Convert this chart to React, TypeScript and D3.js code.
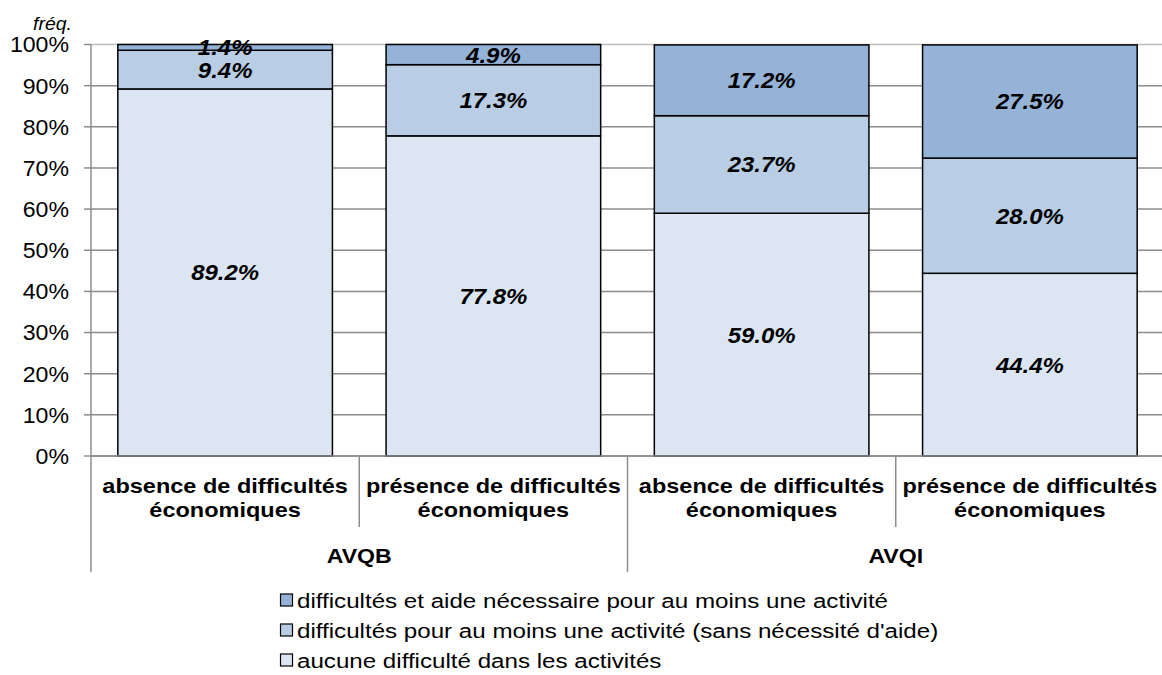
import React from "react";
import * as d3 from "d3";

const groups = ["AVQB", "AVQI"];
const categories = [
  "absence de difficultés économiques",
  "présence de difficultés économiques",
  "absence de difficultés économiques",
  "présence de difficultés économiques",
];
const categoryGroup = ["AVQB", "AVQB", "AVQI", "AVQI"];
const seriesNames = [
  "aucune difficulté dans les activités",
  "difficultés pour au moins une activité (sans nécessité d'aide)",
  "difficultés et aide nécessaire pour au moins une activité",
];
const aucune = [89.2, 77.8, 59.0, 44.4];
const difficultes = [9.4, 17.3, 23.7, 28.0];
const aide = [1.4, 4.9, 17.2, 27.5];
const seriesColors = ["#DCE6F2", "#B9CDE5", "#95B3D7"];
const yTicks = [0, 10, 20, 30, 40, 50, 60, 70, 80, 90, 100];

const W = 1162;
const H = 675;
const left = 91;
const right = 1164;
const top = 44.5;
const bottom = 456;
const FONT = "'Liberation Sans', Arial, sans-serif";

function SText(props: {
  x: number;
  y: number;
  sx: number;
  size: number;
  anchor?: string;
  weight?: string;
  italic?: boolean;
  dy?: string;
  children: React.ReactNode;
}) {
  return (
    <text
      transform={`translate(${props.x},${props.y}) scale(${props.sx},1)`}
      textAnchor={props.anchor || "start"}
      fontSize={props.size}
      fontWeight={props.weight || "normal"}
      fontStyle={props.italic ? "italic" : "normal"}
      dy={props.dy}
      fill="#000"
    >
      {props.children}
    </text>
  );
}

export default function App() {
  const seriesValues = [aucune, difficultes, aide];
  const x = d3
    .scaleBand<number>()
    .domain(categories.map((_, i) => i))
    .range([left, right])
    .paddingInner(0)
    .paddingOuter(0);
  const bw = x.bandwidth();
  const barW = bw * 0.8;
  const y = d3.scaleLinear().domain([0, 100]).range([bottom, top]);

  const stacks = categories.map((_, i) => {
    let acc = 0;
    return seriesValues.map((vals, s) => {
      const y0 = acc;
      acc += vals[i];
      return { s, y0, y1: s === seriesValues.length - 1 ? Math.min(acc, 100) : acc, v: vals[i] };
    });
  });

  const groupCenters = groups.map((g) => {
    const idx = categories.map((_, i) => i).filter((i) => categoryGroup[i] === g);
    const x0 = x(idx[0])!;
    const x1 = x(idx[idx.length - 1])! + bw;
    return { g, x0, x1, c: (x0 + x1) / 2 };
  });

  const legendOrder = [2, 1, 0];
  const legendBaselines = [608, 638, 668];

  return (
    <svg width={W} height={H} style={{ position: "absolute", left: 0, top: 0, background: "#fff" }} fontFamily={FONT}>
      {yTicks.map((t) => (
        <line key={"g" + t} x1={left} x2={W} y1={y(t)} y2={y(t)} stroke={t === 100 ? "#bdbdbd" : "#8c8c8c"} strokeWidth={1.5} />
      ))}
      {yTicks.map((t) => (
        <g key={"t" + t}>
          <line x1={left - 7} x2={left} y1={y(t)} y2={y(t)} stroke="#8c8c8c" strokeWidth={1.5} />
          <SText x={69} y={y(t)} dy="0.36em" anchor="end" size={22} sx={1.05}>
            {t}%
          </SText>
        </g>
      ))}
      <SText x={72} y={30} anchor="end" size={18} sx={1.08} italic>
        fréq.
      </SText>
      <line x1={left} x2={left} y1={top} y2={572} stroke="#8c8c8c" strokeWidth={1.5} />
      {categories.map((_, i) => {
        if (i === 0) return null;
        const xx = x(i)!;
        const isGroupEdge = categoryGroup[i] !== categoryGroup[i - 1];
        return <line key={"d" + i} x1={xx} x2={xx} y1={bottom} y2={isGroupEdge ? 572 : 527} stroke="#8c8c8c" strokeWidth={1.5} />;
      })}
      {stacks.map((st, i) =>
        st.map((seg) => (
          <rect
            key={"b" + i + "-" + seg.s}
            x={x(i)! + (bw - barW) / 2}
            width={barW}
            y={y(seg.y1)}
            height={y(seg.y0) - y(seg.y1)}
            fill={seriesColors[seg.s]}
            stroke="#000"
            strokeWidth={1.5}
          />
        ))
      )}
      <line x1={left} x2={W} y1={bottom} y2={bottom} stroke="#8c8c8c" strokeWidth={1.5} />
      {stacks.map((st, i) =>
        st.map((seg) => (
          <SText
            key={"l" + i + "-" + seg.s}
            x={x(i)! + bw / 2}
            y={y((seg.y0 + seg.y1) / 2)}
            dy="0.36em"
            anchor="middle"
            size={22}
            sx={1.09}
            weight="bold"
            italic
          >
            {seg.v.toFixed(1)}%
          </SText>
        ))
      )}
      {categories.map((c, i) => {
        const words = c.split(" ");
        const l1 = words.slice(0, 3).join(" ");
        const l2 = words.slice(3).join(" ");
        const cx = x(i)! + bw / 2;
        return (
          <g key={"c" + i}>
            <SText x={cx} y={493} anchor="middle" size={21} sx={1.12} weight="bold">
              {l1}
            </SText>
            <SText x={cx} y={517} anchor="middle" size={21} sx={1.12} weight="bold">
              {l2}
            </SText>
          </g>
        );
      })}
      {groupCenters.map((g) => (
        <SText key={g.g} x={g.c} y={563} anchor="middle" size={21} sx={1.1} weight="bold">
          {g.g}
        </SText>
      ))}
      {legendOrder.map((s, k) => {
        const by = legendBaselines[k];
        return (
          <g key={"lg" + s}>
            <rect x={280.5} y={by - 14} width={12} height={12} fill={seriesColors[s]} stroke="#000" strokeWidth={1.2} />
            <SText x={297} y={by} size={21} sx={1.15}>
              {seriesNames[s]}
            </SText>
          </g>
        );
      })}
    </svg>
  );
}
